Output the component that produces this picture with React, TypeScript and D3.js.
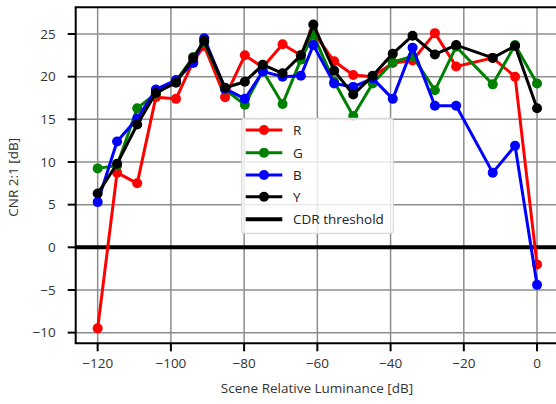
import { scaleLinear, line } from "d3"

// scene relative luminance [dB] of each measured point
const luminance = [
  -120, -114.7, -109.2, -104.1, -98.6, -93.9, -90.9, -85.2, -79.8, -74.9, -69.5, -64.5,
  -61.1, -55.4, -50.2, -44.9, -39.4, -34.0, -27.9, -22.1, -12.1, -6.0, 0,
]

const cnrR = [
  -9.5, 8.75, 7.5, 17.6, 17.4, 21.8, 23.6, 17.6, 22.5, 21.1, 23.8, 22.5,
  25.2, 21.8, 20.2, 20.0, 21.6, 21.9, 25.1, 21.2, 22.2, 20.0, -2.0,
]
const cnrG = [
  9.25, 9.6, 16.3, 18.0, 19.5, 22.3, 24.0, 18.5, 16.7, 20.7, 16.8, 22.0,
  24.9, 19.4, 15.4, 19.2, 21.7, 22.4, 18.4, 23.5, 19.1, 23.7, 19.2,
]
const cnrB = [
  5.3, 12.4, 15.1, 18.5, 19.6, 21.6, 24.5, 18.6, 17.4, 20.6, 20.0, 20.1,
  23.7, 19.2, 18.8, 19.8, 17.4, 23.4, 16.6, 16.6, 8.75, 11.9, -4.4,
]
const cnrY = [
  6.3, 9.8, 14.4, 18.1, 19.3, 22.2, 24.2, 18.7, 19.4, 21.4, 20.4, 22.5,
  26.1, 20.7, 17.9, 20.1, 22.7, 24.8, 22.6, 23.7, 22.2, 23.6, 16.3,
]

const seriesNames = ["R", "G", "B", "Y"]
const seriesColors = ["#ff0000", "#008000", "#0000ff", "#000000"]
const cdrThreshold = 0

const xTicks = [-120, -100, -80, -60, -40, -20, 0]
const yTicks = [-10, -5, 0, 5, 10, 15, 20, 25]

const W = 556
const H = 404
const FONT = "'Open Sans', 'Liberation Sans', sans-serif"
const FS = 13.5

export default function App() {
  const x = scaleLinear().domain([-126, 6]).range([75.7, 559])
  const y = scaleLinear().domain([-11.25, 28.13]).range([343.3, 7.3])
  const [x0, x1] = x.range()
  const [y0, y1] = y.range()

  const all = [cnrR, cnrG, cnrB, cnrY]
  const path = line<number>()
    .x((_, i) => x(luminance[i]))
    .y((d) => y(d))

  const fmt = (n: number) => (n < 0 ? `\u2212${Math.abs(n)}` : `${n}`)

  // legend box
  const lg = { x: 241.7, y: 118.3, w: 151.6, h: 115 }
  const rowY = [130, 152.7, 175, 196.7, 219.3]

  return (
    <svg
      width={W}
      height={H}
      style={{ position: "absolute", left: 0, top: 0, background: "#fff" }}
      fontFamily={FONT}
    >
      <defs>
        <clipPath id="plot">
          <rect x={x0} y={y1} width={x1 - x0} height={y0 - y1} />
        </clipPath>
      </defs>

      {/* grid */}
      <g stroke="#8c8c8c" strokeWidth={1.5} clipPath="url(#plot)">
        {xTicks.map((t) => (
          <line key={t} x1={x(t)} x2={x(t)} y1={y1} y2={y0} />
        ))}
        {yTicks.map((t) => (
          <line key={t} x1={x0} x2={x1} y1={y(t)} y2={y(t)} />
        ))}
      </g>

      <g clipPath="url(#plot)">
        {/* CDR threshold */}
        <line x1={x0} x2={x1} y1={y(cdrThreshold)} y2={y(cdrThreshold)} stroke="#000" strokeWidth={4} />

        {all.map((vals, k) => (
          <g key={k}>
            <path d={path(vals) ?? ""} fill="none" stroke={seriesColors[k]} strokeWidth={3} strokeLinejoin="round" />
            {vals.map((v, i) => (
              <circle key={i} cx={x(luminance[i])} cy={y(v)} r={5} fill={seriesColors[k]} />
            ))}
          </g>
        ))}
      </g>

      {/* spines */}
      <g stroke="#000" strokeWidth={2} fill="none">
        <line x1={x0} x2={x0} y1={y1} y2={y0} />
        <line x1={x0 - 1} x2={W} y1={y0} y2={y0} />
        <line x1={x0 - 1} x2={W} y1={y1} y2={y1} />
      </g>

      {/* y axis */}
      {yTicks.map((t) => (
        <g key={t}>
          <line x1={x0 - 8} x2={x0} y1={y(t)} y2={y(t)} stroke="#000" strokeWidth={2} />
          <text x={x0 - 20} y={y(t)} dy="0.35em" textAnchor="end" fontSize={FS} fill="#333">
            {fmt(t)}
          </text>
        </g>
      ))}
      <text
        transform={`translate(18,${(y0 + y1) / 2 + 2}) rotate(-90)`}
        textAnchor="middle"
        fontSize={FS}
        fill="#333"
      >
        CNR 2:1 [dB]
      </text>

      {/* x axis */}
      {xTicks.map((t) => (
        <g key={t}>
          <line x1={x(t)} x2={x(t)} y1={y0} y2={y0 + 8} stroke="#000" strokeWidth={2} />
          <text x={x(t)} y={y0 + 25} textAnchor="middle" fontSize={FS} fill="#333">
            {fmt(t)}
          </text>
        </g>
      ))}
      <text x={317} y={393} textAnchor="middle" fontSize={FS} fill="#333">
        Scene Relative Luminance [dB]
      </text>

      {/* legend */}
      <rect
        x={lg.x}
        y={lg.y}
        width={lg.w}
        height={lg.h}
        rx={3}
        fill="#fff"
        fillOpacity={0.8}
        stroke="#d9d9d9"
        strokeWidth={1.2}
      />
      {seriesNames.map((name, k) => (
        <g key={name}>
          <line x1={245.7} x2={282.3} y1={rowY[k]} y2={rowY[k]} stroke={seriesColors[k]} strokeWidth={3} />
          <circle cx={264} cy={rowY[k]} r={5} fill={seriesColors[k]} />
          <text x={293} y={rowY[k]} dy="0.38em" fontSize={FS} fill="#222">
            {name}
          </text>
        </g>
      ))}
      <line x1={245.7} x2={282.3} y1={rowY[4]} y2={rowY[4]} stroke="#000" strokeWidth={4} />
      <text x={293} y={rowY[4]} dy="0.38em" fontSize={FS} fill="#222">
        CDR threshold
      </text>
    </svg>
  )
}
